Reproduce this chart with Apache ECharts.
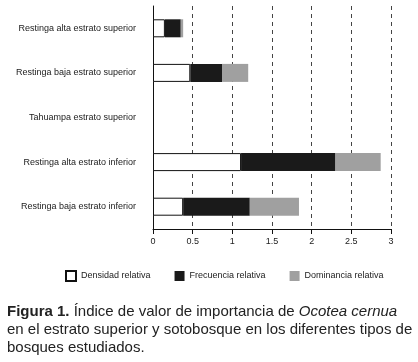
<!DOCTYPE html>
<html>
<head>
<meta charset="utf-8">
<script src="https://cdn.jsdelivr.net/npm/echarts@6/dist/echarts.min.js"></script>
<style>
  html, body { margin: 0; padding: 0; background: #fff; }
  #chart { width: 418px; height: 362px; }
</style>
</head>
<body>
<div id="chart"></div>
<script>
var categories = [
  'Restinga alta estrato superior',
  'Restinga baja estrato superior',
  'Tahuampa estrato superior',
  'Restinga alta estrato inferior',
  'Restinga baja estrato inferior'
];
var densidad = [0.15, 0.47, 0, 1.11, 0.38];
var frecuencia = [0.20, 0.40, 0, 1.19, 0.84];
var dominancia = [0.03, 0.33, 0, 0.57, 0.62];
var xTicks = [0, 0.5, 1, 1.5, 2, 2.5, 3];

var font = 'Liberation Sans, Arial, sans-serif';
var myChart = echarts.init(document.getElementById('chart'));

// zero values are not drawn at all in the original
function noZero(arr) {
  return arr.map(function (v) { return v === 0 ? '-' : v; });
}

var option = {
  animation: false,
  textStyle: { fontFamily: font },
  title: {
    left: 7,
    top: 303,
    padding: 0,
    text: '{b|Figura 1.} {n|Índice de valor de importancia de }{i|Ocotea cernua}\n' +
          '{n|en el estrato superior y sotobosque en los diferentes tipos de}\n' +
          '{n|bosques estudiados.}',
    textStyle: {
      fontFamily: font,
      fontSize: 15,
      fontWeight: 'normal',
      lineHeight: 18,
      color: '#222',
      rich: {
        b: { fontFamily: font, fontSize: 15, fontWeight: 'bold', color: '#222', lineHeight: 18 },
        n: { fontFamily: font, fontSize: 15, fontWeight: 'normal', color: '#222', lineHeight: 18 },
        i: { fontFamily: font, fontSize: 15, fontWeight: 'normal', fontStyle: 'italic', color: '#222', lineHeight: 18 }
      }
    }
  },
  legend: {
    left: 60,
    top: 265,
    width: 355,
    itemWidth: 10,
    itemHeight: 10,
    itemGap: 24,
    icon: 'rect',
    textStyle: { fontFamily: font, fontSize: 9, color: '#222' },
    data: ['Densidad relativa', 'Frecuencia relativa', 'Dominancia relativa']
  },
  grid: { left: 153, right: 27, top: 6, bottom: 133 },
  xAxis: {
    type: 'value',
    min: 0,
    max: 3,
    interval: 0.5,
    axisLine: { show: true, lineStyle: { color: '#111', width: 1 } },
    axisTick: { show: true, length: 5, lineStyle: { color: '#111' } },
    axisLabel: {
      margin: 8,
      fontFamily: font,
      fontSize: 9,
      color: '#222',
      formatter: function (v) { return xTicks.indexOf(v) >= 0 ? String(v) : ''; }
    },
    splitLine: { show: true, lineStyle: { color: '#444', type: [4, 4], width: 1 } }
  },
  yAxis: {
    type: 'category',
    inverse: true,
    data: categories,
    axisLine: { show: true, lineStyle: { color: '#111', width: 1 } },
    axisTick: { show: false },
    axisLabel: { margin: 17, fontFamily: font, fontSize: 9, color: '#222' }
  },
  series: [
    {
      name: 'Densidad relativa',
      type: 'bar',
      stack: 'ivi',
      barWidth: 18,
      data: noZero(densidad),
      itemStyle: { color: '#ffffff', borderColor: '#111', borderWidth: 1 }
    },
    {
      name: 'Frecuencia relativa',
      type: 'bar',
      stack: 'ivi',
      barWidth: 18,
      data: noZero(frecuencia),
      itemStyle: { color: '#1a1a1a' }
    },
    {
      name: 'Dominancia relativa',
      type: 'bar',
      stack: 'ivi',
      barWidth: 18,
      data: noZero(dominancia),
      itemStyle: { color: '#a0a0a0' }
    }
  ]
};

myChart.setOption(option);
</script>
</body>
</html>
